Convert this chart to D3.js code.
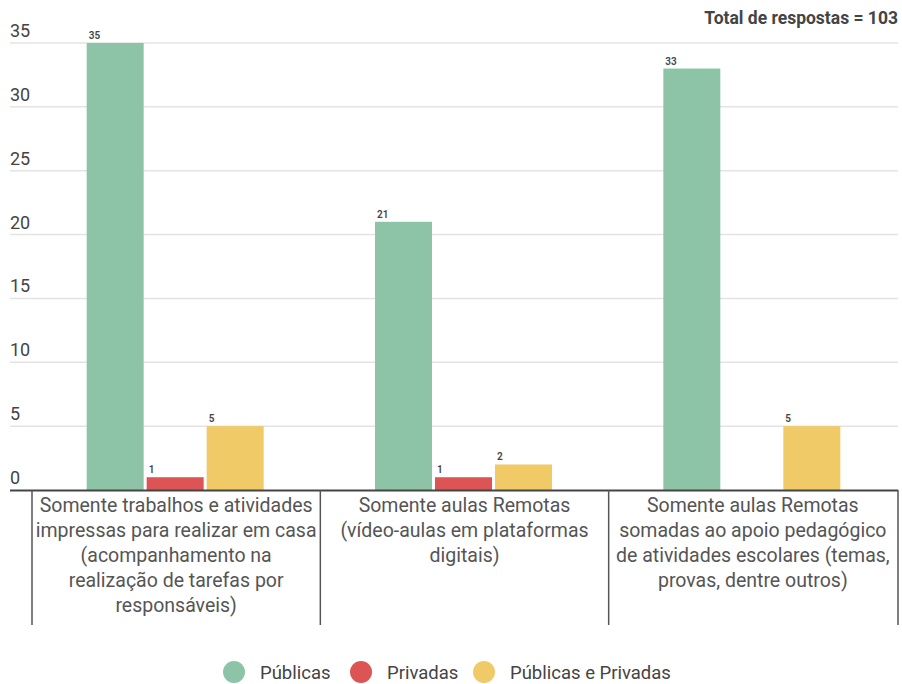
<!DOCTYPE html>
<html>
<head>
<meta charset="utf-8">
<script src="https://cdn.jsdelivr.net/npm/d3@7"></script>
<style>
  body { margin: 0; background: #fff; }
  svg { font-family: Roboto, "Noto Sans", sans-serif; }
</style>
</head>
<body>
<svg id="chart" width="902" height="684"></svg>
<script>
// Response categories (each rendered as wrapped lines)
const categories = [
  ["Somente trabalhos e atividades", "impressas para realizar em casa", "(acompanhamento na", "realização de tarefas por", "responsáveis)"],
  ["Somente aulas Remotas", "(vídeo-aulas em plataformas", "digitais)"],
  ["Somente aulas Remotas", "somadas ao apoio pedagógico", "de atividades escolares (temas,", "provas, dentre outros)"]
];
const seriesNames = ["Públicas", "Privadas", "Públicas e Privadas"];
const publicas = [35, 21, 33];
const privadas = [1, 1, 0];
const publicasPrivadas = [5, 2, 5];
const yTicks = [0, 5, 10, 15, 20, 25, 30, 35];
const colors = ["#8dc4a8", "#dd5454", "#efca67"];
const totalLabel = "Total de respostas = 103";

const seriesValues = [publicas, privadas, publicasPrivadas];

const svg = d3.select("#chart");
const plot = { left: 31, right: 896, top: 43, bottom: 490 };

const y = d3.scaleLinear().domain([0, 35]).range([plot.bottom, plot.top]);
const x0 = d3.scaleBand().domain(d3.range(categories.length)).range([plot.left, plot.right]);
const groupW = 177;
const x1 = d3.scaleBand().domain(d3.range(seriesNames.length)).range([0, groupW]).paddingInner(0.05);
const groupOffset = (x0.bandwidth() - groupW) / 2;

// Horizontal gridlines
svg.append("g").selectAll("line").data(yTicks.filter(t => t > 0)).join("line")
  .attr("x1", 10).attr("x2", 898)
  .attr("y1", d => y(d)).attr("y2", d => y(d))
  .attr("stroke", "#e3e3e3").attr("stroke-width", 1.5);

// Y tick labels sit above their gridlines
svg.append("g").selectAll("text").data(yTicks).join("text")
  .attr("x", 10).attr("y", d => y(d) - 6)
  .attr("font-size", 18).attr("fill", "#444")
  .text(d => d);

// Bars
const groups = svg.append("g").selectAll("g").data(categories).join("g")
  .attr("transform", (d, i) => `translate(${x0(i) + groupOffset},0)`);

groups.each(function(_, ci) {
  const g = d3.select(this);
  const data = seriesValues.map((vals, si) => ({ si, v: vals[ci] })).filter(d => d.v > 0);
  g.selectAll("rect").data(data).join("rect")
    .attr("x", d => x1(d.si)).attr("width", x1.bandwidth())
    .attr("y", d => y(d.v)).attr("height", d => y(0) - y(d.v))
    .attr("fill", d => colors[d.si]);
  g.selectAll("text").data(data).join("text")
    .attr("x", d => x1(d.si) + 2).attr("y", d => y(d.v) - 4)
    .attr("font-size", 10).attr("font-weight", 600).attr("fill", "#444")
    .text(d => d.v);
});

// Baseline
svg.append("line")
  .attr("x1", 10).attr("x2", 898)
  .attr("y1", y(0) + 0.5).attr("y2", y(0) + 0.5)
  .attr("stroke", "#444").attr("stroke-width", 2);

// Category dividers
const dividers = [x0(0) + 1, x0(1) + 1, x0(2) + 1, 898];
svg.append("g").selectAll("line").data(dividers).join("line")
  .attr("x1", d => d).attr("x2", d => d)
  .attr("y1", y(0)).attr("y2", 625)
  .attr("stroke", "#555").attr("stroke-width", 1.5);

// Category labels
svg.append("g").selectAll("text").data(categories).join("text")
  .attr("text-anchor", "middle").attr("font-size", 19.5).attr("fill", "#555")
  .each(function(lines, i) {
    d3.select(this).selectAll("tspan").data(lines).join("tspan")
      .attr("x", x0(i) + x0.bandwidth() / 2 + 1)
      .attr("y", (d, k) => 512 + k * 25)
      .text(d => d);
  });

// Total responses annotation
svg.append("text")
  .attr("x", 898).attr("y", 24)
  .attr("text-anchor", "end").attr("font-size", 17.5).attr("font-weight", 700).attr("fill", "#444")
  .text(totalLabel);

// Legend
const legendX = [234, 361, 484];
const legend = svg.append("g").selectAll("g").data(seriesNames).join("g")
  .attr("transform", (d, i) => `translate(${legendX[i]},672)`);
legend.append("circle").attr("r", 11).attr("fill", (d, i) => colors[i]);
legend.append("text").attr("x", 26).attr("y", 6.5)
  .attr("font-size", 18.5).attr("fill", "#444").text(d => d);
</script>
</body>
</html>
